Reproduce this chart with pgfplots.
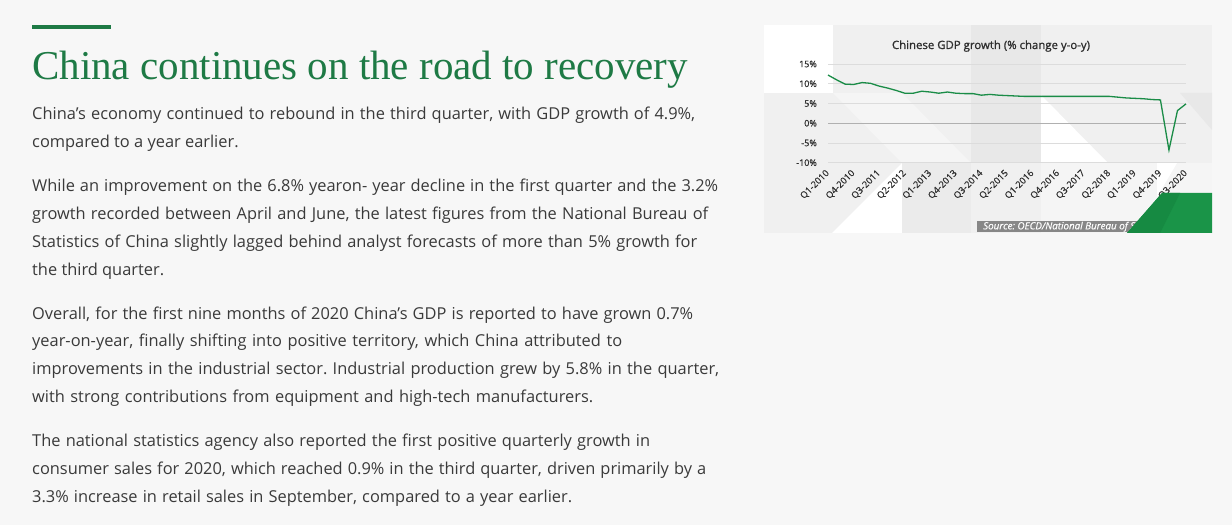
\documentclass[border=0pt]{standalone}
\usepackage{pgfplots}
\pgfplotsset{compat=1.18}
\usepackage{fontspec}
\setmainfont{Open Sans}
\newfontfamily\titlefont{Liberation Serif}
\newfontfamily\chartfont[FakeBold=0.5]{Open Sans}
\newfontfamily\charttitlefont[FakeBold=1.2]{Open Sans}
\definecolor{pagebg}{HTML}{F7F7F7}
\definecolor{brandgreen}{HTML}{1E7A45}
\definecolor{bodytext}{HTML}{3A3A3A}
\definecolor{linegreen}{HTML}{1A8C47}
\definecolor{cornergreen}{HTML}{1A9448}
\definecolor{cornergreen2}{HTML}{168A42}
\definecolor{gridgray}{HTML}{DCDCDC}
\definecolor{zerogray}{HTML}{B0B0B0}
\definecolor{tickgray}{HTML}{2E2E2E}
\newcommand\bl[2]{\makebox[#1pt][s]{#2}}
\frenchspacing
\begin{document}
\begin{tikzpicture}[x=1pt,y=1pt]
\useasboundingbox (0,0) rectangle (1232,525);
\fill[pagebg] (0,0) rectangle (1232,525);
% green bar
\fill[brandgreen] (32,495.5) rectangle (111,500);
% title
\node[anchor=base west, inner sep=0pt, text=brandgreen] at (32,445)
  {\titlefont\fontsize{41}{44}\selectfont China continues on the road to recovery};
% body text
\begin{scope}[every node/.style={anchor=base west, inner sep=0pt, text=bodytext, font=\fontsize{16.4}{20}\selectfont\frenchspacing}]
\node at (32,525-120) {\bl{663}{China’s economy continued to rebound in the third quarter, with GDP growth of 4.9\%,}};
\node at (32,525-147.8) {compared to a year earlier.};
\node at (32,525-191.7) {\bl{686}{While an improvement on the 6.8\% yearon- year decline in the first quarter and the 3.2\%}};
\node at (32,525-219.5) {\bl{676}{growth recorded between April and June, the latest figures from the National Bureau of}};
\node at (32,525-247.3) {\bl{665}{Statistics of China slightly lagged behind analyst forecasts of more than 5\% growth for}};
\node at (32,525-275.1) {the third quarter.};
\node at (32,525-319.2) {\bl{661}{Overall, for the first nine months of 2020 China’s GDP is reported to have grown 0.7\%}};
\node at (32,525-347) {\bl{590}{year-on-year, finally shifting into positive territory, which China attributed to}};
\node at (32,525-374.8) {\bl{687}{improvements in the industrial sector. Industrial production grew by 5.8\% in the quarter,}};
\node at (32,525-402.6) {\bl{561}{with strong contributions from equipment and high-tech manufacturers.}};
\node at (32,525-446.6) {\bl{618}{The national statistics agency also reported the first positive quarterly growth in}};
\node at (32,525-474.4) {\bl{674}{consumer sales for 2020, which reached 0.9\% in the third quarter, driven primarily by a}};
\node at (32,525-502.2) {\bl{540}{3.3\% increase in retail sales in September, compared to a year earlier.}};
\end{scope}
% chart image background
\fill[black!6] (764,525-233) rectangle (1212,525-25);
\fill[white] (764,525-93) rectangle (833,525-25);
\fill[black!9] (971,525-163) rectangle (1041,525-25);
\fill[black!4] (833,525-93) -- (902,525-93) -- (971,525-163) -- (902,525-163) -- cycle;
\fill[white] (832,525-233) -- (902,525-163) -- (902,525-233) -- cycle;
\fill[black!8] (902,525-233) rectangle (971,525-163);
\fill[white] (1041,525-95) -- (1108,525-163) -- (1041,525-163) -- cycle;
\fill[black!4] (1041,525-163) rectangle (1212,525-233);
\fill[white] (1157,525-163) -- (1177,525-163) -- (1157,525-197) -- cycle;
\fill[black!9] (1180,525-93) -- (1212,525-93) -- (1212,525-130) -- cycle;
\coordinate (axpos) at (828,362.3);
\begin{axis}[
  at={(axpos)}, anchor=south west,
  width=358pt, height=98.7pt, scale only axis,
  xmin=0, xmax=42, ymin=-10, ymax=15,
  axis line style={draw=none},
  major tick length=0pt,
  ytick={-10,-5,0,5,10,15},
  yticklabels={-10\%,-5\%,0\%,5\%,10\%,15\%},
  yticklabel style={font=\chartfont\fontsize{9}{10}\selectfont, text=tickgray, inner sep=0pt, xshift=-11pt},
  xtick={0,3,...,42},
  xticklabels={Q1-2010,Q4-2010,Q3-2011,Q2-2012,Q1-2013,Q4-2013,Q3-2014,Q2-2015,Q1-2016,Q4-2016,Q3-2017,Q2-2018,Q1-2019,Q4-2019,Q3-2020},
  xticklabel style={font=\chartfont\fontsize{9.2}{10}\selectfont, text=tickgray, rotate=45, anchor=east, inner sep=0pt},
  xticklabel shift=9pt,
  ymajorgrids,
  grid style={gridgray, line width=0.8pt},
  extra y ticks={0},
  extra y tick labels={},
  extra y tick style={grid style={zerogray, line width=1.1pt}},
  clip=false,
]
\addplot[linegreen, line width=1.3pt] coordinates {
(0,12.2)(1,11.0)(2,9.9)(3,9.8)(4,10.3)(5,10.1)(6,9.4)(7,8.9)(8,8.3)(9,7.6)(10,7.6)(11,8.1)
(12,7.9)(13,7.6)(14,7.9)(15,7.6)(16,7.5)(17,7.5)(18,7.1)(19,7.3)(20,7.1)(21,7.0)(22,6.9)(23,6.8)
(24,6.8)(25,6.8)(26,6.8)(27,6.8)(28,6.8)(29,6.8)(30,6.8)(31,6.8)(32,6.8)(33,6.8)
(34,6.6)(35,6.4)(36,6.3)(37,6.2)(38,6.0)(39,5.9)(40,-6.8)(41,3.2)(42,4.9)
};
\end{axis}
% chart title
\node[anchor=base, inner sep=0pt, text=tickgray] at (991,525-49)
  {\charttitlefont\fontsize{11.4}{12}\selectfont Chinese GDP growth (\% change y-o-y)};
% source box
\fill[black!47] (977,525-232) rectangle (1140,525-221);
\begin{scope}
\clip (977,525-232) rectangle (1140,525-221);
\node[anchor=base west, inner sep=0pt, text=white] at (983,525-229.3)
  {\chartfont\itshape\fontsize{9.8}{10}\selectfont Source: OECD/National Bureau of Statistics};
\end{scope}
% green corner
\fill[cornergreen] (1127,525-233) -- (1162,525-193) -- (1212,525-193) -- (1212,525-233) -- cycle;
\fill[cornergreen2] (1127,525-233) -- (1162,525-193) -- (1180,525-193) -- (1160,525-233) -- cycle;
\end{tikzpicture}
\end{document}
